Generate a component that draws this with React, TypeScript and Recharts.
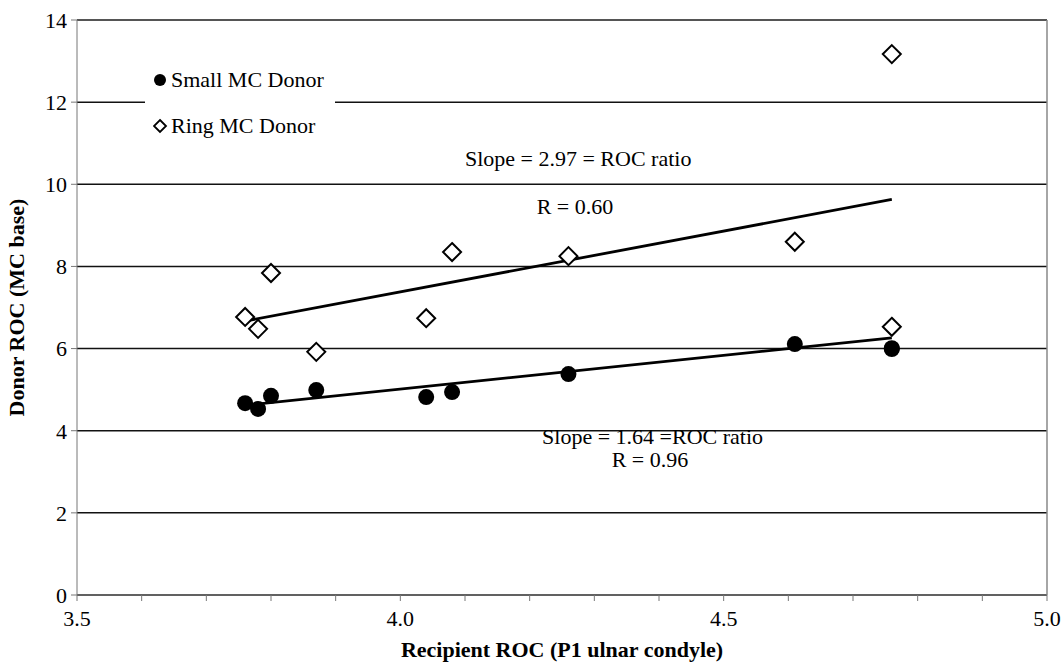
import { ScatterChart, Scatter, XAxis, YAxis, CartesianGrid, ReferenceLine, ReferenceDot } from 'recharts';

const recipientRoc = [3.76, 3.78, 3.8, 3.87, 4.04, 4.08, 4.26, 4.61, 4.76, 4.76];
const smallDonorRoc = [4.67, 4.53, 4.85, 4.99, 4.82, 4.94, 5.38, 6.11, 6.01, 5.99];
const ringDonorRoc = [6.77, 6.48, 7.84, 5.92, 6.74, 8.35, 8.25, 8.6, 6.53, 13.17];

const fitX = [3.76, 4.76];
const smallFitY = [4.62, 6.26];
const ringFitY = [6.67, 9.63];

const xTicks = [3.5, 3.6, 3.7, 3.8, 3.9, 4.0, 4.1, 4.2, 4.3, 4.4, 4.5, 4.6, 4.7, 4.8, 4.9, 5.0];
const yTicks = [0, 2, 4, 6, 8, 10, 12, 14];

const notes = [
  { x: 4.275, y: 10.64, text: 'Slope = 2.97 = ROC ratio' },
  { x: 4.27, y: 9.47, text: 'R = 0.60' },
  { x: 4.39, y: 3.86, text: 'Slope = 1.64 =ROC ratio' },
  { x: 4.386, y: 3.3, text: 'R = 0.96' },
];

const smallData = recipientRoc.map((x, i) => ({ x, y: smallDonorRoc[i] }));
const ringData = recipientRoc.map((x, i) => ({ x, y: ringDonorRoc[i] }));
const smallFit = fitX.map((x, i) => ({ x, y: smallFitY[i] }));
const ringFit = fitX.map((x, i) => ({ x, y: ringFitY[i] }));

const FONT = 'Liberation Serif';
const FS = 22;
const textStyle = { fontFamily: FONT, fontSize: FS, fill: '#000' };

const Dot = ({ cx, cy }: any) => <circle cx={cx} cy={cy} r={8} fill="#000" />;

const Diamond = ({ cx, cy }: any) => (
  <polygon
    points={`${cx},${cy - 9} ${cx + 9},${cy} ${cx},${cy + 9} ${cx - 9},${cy}`}
    fill="#fff"
    stroke="#000"
    strokeWidth={2}
  />
);

// legend sits over the 12 gridline on a white box, like the original
const LegendBox = () => (
  <div
    style={{
      position: 'absolute',
      left: 145,
      top: 60,
      width: 190,
      height: 86,
      background: '#fff',
      fontFamily: FONT,
      fontSize: FS,
      color: '#000',
      boxSizing: 'border-box',
      paddingLeft: 8,
    }}
  >
    <div style={{ display: 'flex', alignItems: 'center', height: 40 }}>
      <svg width={16} height={16}><circle cx={7} cy={8} r={6} fill="#000" /></svg>
      <span style={{ marginLeft: 2 }}>Small MC Donor</span>
    </div>
    <div style={{ display: 'flex', alignItems: 'center', height: 40, marginTop: 6 }}>
      <svg width={16} height={16}>
        <polygon points="7,2 13,8 7,14 1,8" fill="#fff" stroke="#000" strokeWidth={1.8} />
      </svg>
      <span style={{ marginLeft: 2 }}>Ring MC Donor</span>
    </div>
  </div>
);

const YTitle = ({ viewBox }: any) => {
  const x = 16;
  const y = viewBox.y + viewBox.height / 2;
  return (
    <text
      x={x}
      y={y}
      transform={`rotate(-90 ${x} ${y})`}
      textAnchor="middle"
      dominantBaseline="central"
      style={{ fontFamily: FONT, fontSize: FS, fontWeight: 'bold', fill: '#000' }}
    >
      Donor ROC (MC base)
    </text>
  );
};

const Note = ({ viewBox, value }: any) => (
  <text
    x={viewBox.x + viewBox.width / 2}
    y={viewBox.y + viewBox.height / 2}
    textAnchor="middle"
    dominantBaseline="central"
    style={textStyle}
  >
    {value}
  </text>
);

export default function App() {
  return (
    <div style={{ position: 'absolute', left: 0, top: 0, width: 1064, height: 669, background: '#fff', fontFamily: FONT }}>
      <ScatterChart width={1064} height={669} margin={{ top: 20, right: 17, bottom: 0, left: 0 }} style={{ fontFamily: FONT }}>
        <CartesianGrid horizontal vertical={false} stroke="#111" strokeWidth={1.5} />
        <XAxis
          type="number"
          dataKey="x"
          domain={[3.5, 5]}
          ticks={xTicks}
          interval={0}
          height={74}
          tickSize={6}
          tickMargin={9}
          tickFormatter={(v: number) => (Math.round(v * 10) % 5 === 0 ? v.toFixed(1) : '')}
          tick={{ style: textStyle, fill: '#000', fontSize: FS }}
          stroke="#777"
          label={{ value: 'Recipient ROC (P1 ulnar condyle)', position: 'insideBottom', offset: 12, style: { ...textStyle, fontWeight: 'bold' } }}
        />
        <YAxis
          type="number"
          dataKey="y"
          domain={[0, 14]}
          ticks={yTicks}
          interval={0}
          width={77}
          tickSize={6}
          tickMargin={4}
          tick={{ style: textStyle, fill: '#000', fontSize: FS }}
          stroke="#777"
          label={<YTitle />}
        />
        <ReferenceLine y={14} stroke="#555" strokeWidth={2} />
        <ReferenceLine x={5} stroke="#888" strokeWidth={1.5} />
        <Scatter data={ringFit} line={{ stroke: '#000', strokeWidth: 2.8 }} shape={() => null} isAnimationActive={false} legendType="none" />
        <Scatter data={smallFit} line={{ stroke: '#000', strokeWidth: 2.8 }} shape={() => null} isAnimationActive={false} legendType="none" />
        <Scatter name="Ring MC Donor" data={ringData} shape={<Diamond />} isAnimationActive={false} />
        <Scatter name="Small MC Donor" data={smallData} shape={<Dot />} isAnimationActive={false} />
        {notes.map((n) => (
          <ReferenceDot
            key={n.text}
            x={n.x}
            y={n.y}
            r={0}
            stroke="none"
            label={<Note value={n.text} />}
          />
        ))}
      </ScatterChart>
      <LegendBox />
    </div>
  );
}
